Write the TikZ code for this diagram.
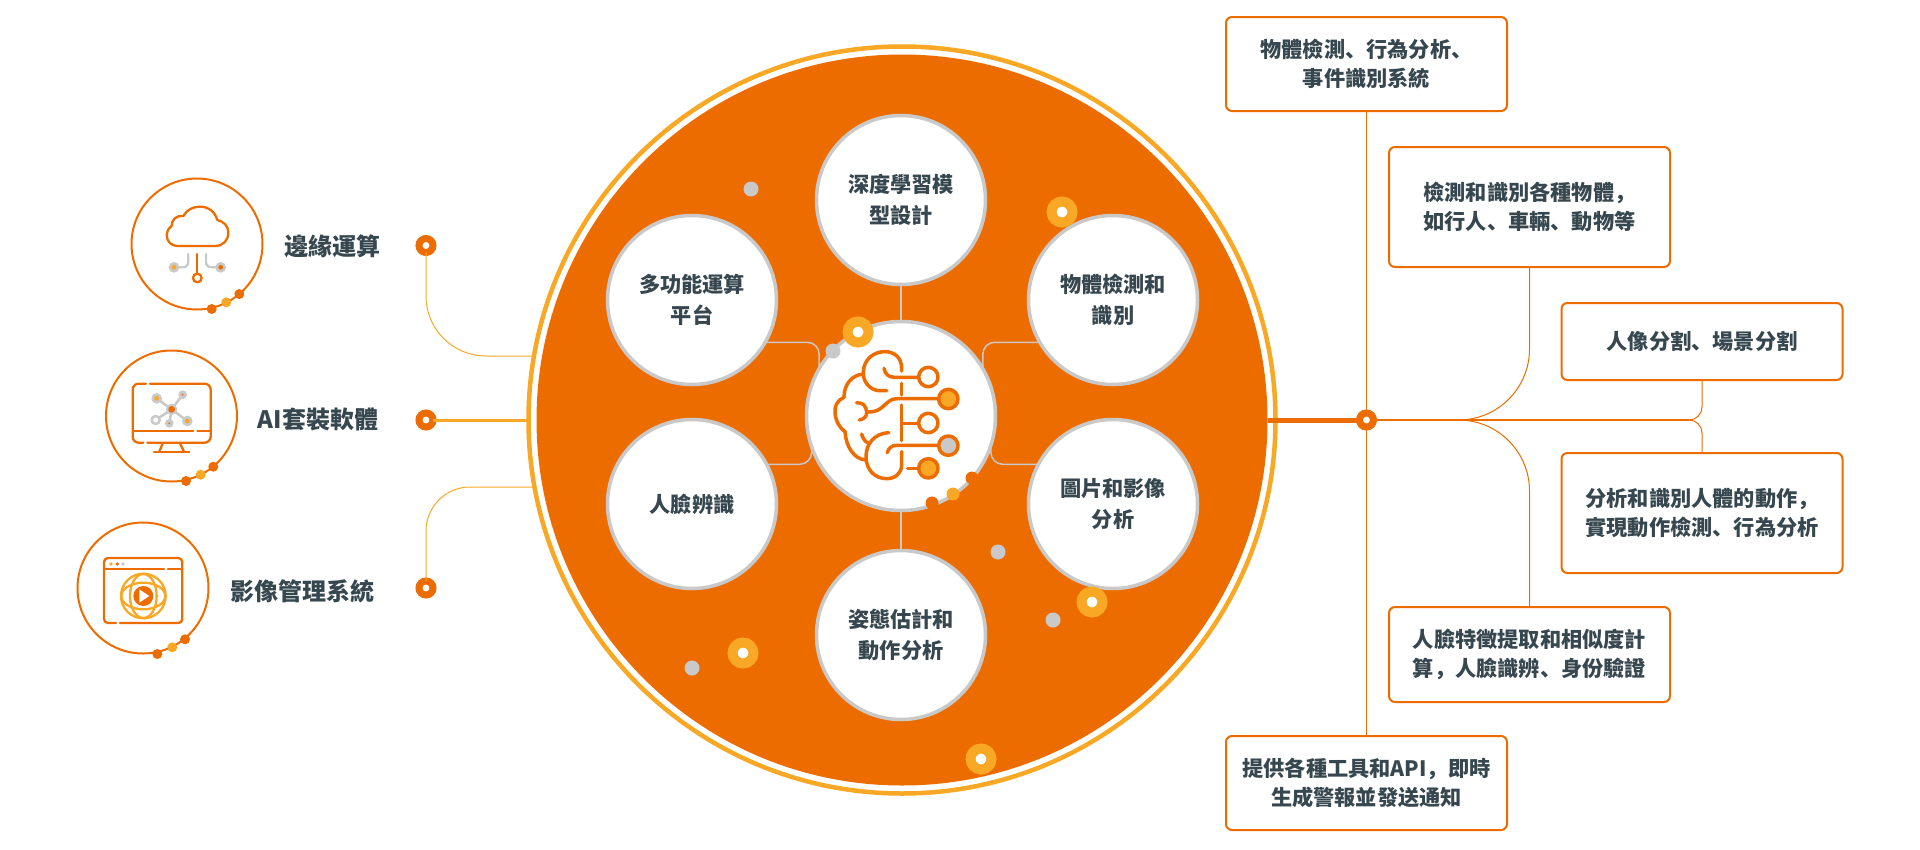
\documentclass[tikz,border=0pt]{standalone}
\usepackage{fontspec}
\setmainfont{Noto Sans CJK SC}
\definecolor{brandorange}{HTML}{EC6C00}
\definecolor{brandyellow}{HTML}{F9A825}
\definecolor{softgray}{HTML}{C9C9C9}
\definecolor{inkgray}{HTML}{37474F}
\begin{document}
\begin{tikzpicture}[
    x=1pt,
    y=-1pt,
    base/.style={font=\fontsize{21.2}{29}\selectfont\bfseries, text=inkgray, align=center},
    hub/.style={circle, draw=softgray, line width=3.5pt, fill=white, inner sep=0pt, outer sep=0pt, minimum size=169pt, base, font=\fontsize{21.2}{31}\selectfont\bfseries},
    infobox/.style={rectangle, draw=brandorange, line width=2pt, rounded corners=6pt, fill=white, inner sep=0pt, outer sep=0pt, base},
    sidelabel/.style={base, font=\fontsize{24}{30}\selectfont\bfseries},
    iconring/.style={circle, draw=brandorange, line width=2pt, inner sep=0pt, outer sep=0pt, minimum size=131pt},
    portdot/.style={circle, draw=brandorange, line width=7pt, fill=white, inner sep=0pt, outer sep=0pt, minimum size=14pt},
    grayspot/.style={circle, fill=softgray, inner sep=0pt, minimum size=15pt},
    ringspot/.style={circle, draw=brandyellow, line width=10pt, fill=white, inner sep=0pt, minimum size=21pt},
    orangebead/.style={circle, fill=brandorange, inner sep=0pt, minimum size=10pt},
    yellowbead/.style={circle, fill=brandyellow, inner sep=0pt, minimum size=10pt},
    spoke/.style={softgray, line width=1.5pt, rounded corners=12pt},
    feeder/.style={brandyellow, line width=1pt},
    branch/.style={brandorange, line width=1pt},
    icon/.style={brandorange, line width=2.3pt, line cap=round, line join=round},
    brainline/.style={brandorange, line width=3.5pt, line cap=round, line join=round}
]
\useasboundingbox (0,0) rectangle (1920,849);

% Main disc
\node[circle, fill=brandorange, inner sep=0pt, outer sep=0pt, minimum size=731pt] (disc) at (902,420) {};
\node[circle, draw=brandyellow, line width=4.5pt, inner sep=0pt, outer sep=0pt, minimum size=747pt] (ring) at (902,420) {};

% Circles on the disc
\node[hub, minimum size=189pt] (brain) at (901,416) {};
\node[hub] (design) at (901,200) {深度學習模\\型設計};
\node[hub] (platform) at (692,300) {多功能運算\\平台};
\node[hub] (detect) at (1113,300) {物體檢測和\\識別};
\node[hub] (face) at (692,504) {人臉辨識};
\node[hub] (picture) at (1113,504) {圖片和影像\\分析};
\node[hub] (pose) at (901,635) {姿態估計和\\動作分析};

\draw[spoke] (design.south) -- (brain.north);
\draw[spoke] (pose.north) -- (brain.south);
\draw[spoke] (platform.-30) -| (brain.150);
\draw[spoke] (detect.210) -| (brain.30);
\draw[spoke] (face.28) -| (brain.199);
\draw[spoke] (picture.152) -| (brain.-18);

% Spots
\node[grayspot] (spotA) at (751,189) {};
\node[grayspot] (spotB) at (833,351) {};
\node[grayspot] (spotC) at (998,552) {};
\node[grayspot] (spotD) at (1053,620) {};
\node[grayspot] (spotE) at (692,668) {};
\node[ringspot] (haloA) at (1062,212) {};
\node[ringspot] (haloB) at (858,332) {};
\node[ringspot] (haloC) at (1092,602) {};
\node[ringspot] (haloD) at (743,653) {};
\node[ringspot] (haloE) at (981,759) {};
\node[orangebead, minimum size=13pt] (beadA) at (932,503) {};
\node[yellowbead, minimum size=13pt] (beadB) at (953,494) {};
\node[orangebead, minimum size=13pt] (beadC) at (972,478) {};

% Brain
\begin{scope}[shift={(780,300)}, scale=1/3]
\draw[brainline] (320,272) -- (295,272) .. controls (268,268) and (248,245) .. (250,215) .. controls (252,178) and (280,155) .. (315,155) .. controls (345,155) and (365,175) .. (365,205) -- (365,213);
\draw[brainline] (250,222) .. controls (218,225) and (192,250) .. (192,292) .. controls (172,300) and (162,320) .. (165,340) .. controls (168,365) and (180,385) .. (195,395) .. controls (198,440) and (222,478) .. (258,480);
\draw[brainline] (326,398) .. controls (285,400) and (258,430) .. (258,470) .. controls (258,510) and (285,536) .. (320,536) .. controls (345,536) and (365,520) .. (365,495) -- (365,455);
\draw[brainline] (365,250) -- (365,285);
\draw[brainline] (365,315) -- (365,422);
\draw[brainline] (312,205) .. controls (315,222) and (325,232) .. (345,232) -- (415,232);
\draw[brainline] (230,308) .. controls (250,308) and (258,318) .. (260,335) .. controls (262,350) and (250,358) .. (238,360);
\draw[brainline] (260,335) .. controls (310,342) and (315,296) .. (350,296) -- (475,296);
\draw[brainline] (365,370) -- (415,370);
\draw[brainline] (322,458) .. controls (325,445) and (335,436) .. (350,436) -- (475,436);
\draw[brainline] (245,402) .. controls (248,415) and (255,425) .. (266,430);
\draw[brainline] (383,505) -- (415,505);
\draw[brainline, fill=white] (445,231) circle[radius=29];
\draw[brainline, fill=brandyellow] (505,297) circle[radius=29];
\draw[brainline, fill=white] (445,369) circle[radius=29];
\draw[brainline, fill=softgray] (505,437) circle[radius=29];
\draw[brainline, fill=brandyellow] (445,505) circle[radius=29];
\end{scope}

% Left column
\node[iconring] (cloudring) at (197,244) {};
\node[iconring] (screenring) at (171.5,416) {};
\node[iconring] (videoring) at (143,588) {};
\node[orangebead] (cloudA) at (211.7,309) {};
\node[yellowbead] (cloudB) at (226.3,302.3) {};
\node[orangebead] (cloudC) at (239.3,294) {};
\node[orangebead] (screenA) at (186,481) {};
\node[yellowbead] (screenB) at (200.7,474.7) {};
\node[orangebead] (screenC) at (213.3,466.7) {};
\node[orangebead] (videoA) at (157.3,654) {};
\node[yellowbead] (videoB) at (172.3,647.3) {};
\node[orangebead] (videoC) at (185,639.3) {};

\node[sidelabel] (edgelabel) at (332,246.5) {邊緣運算};
\node[sidelabel] (softlabel) at (318,419) {AI套裝軟體};
\node[sidelabel] (vmslabel) at (302,591) {影像管理系統};

\node[portdot] (edgeport) at (426,245.5) {};
\node[portdot] (softport) at (426,420) {};
\node[portdot] (vmsport) at (426,588) {};
\coordinate (edgejoin) at (533,356);
\coordinate (vmsjoin) at (533,487);

\draw[feeder, rounded corners=60pt] (edgeport.south) |- (edgejoin);
\draw[brandyellow, line width=3pt] (softport.east) -- (ring.west);
\draw[feeder, rounded corners=44pt] (vmsport.north) |- (vmsjoin);

% Cloud icon
\begin{scope}[shift={(60,160)}, scale=1/3]
\draw[icon] (352,258) -- (465,258) .. controls (490,258) and (505,240) .. (505,218) .. controls (505,198) and (492,185) .. (472,180) .. controls (465,155) and (445,140) .. (420,140) .. controls (398,140) and (380,150) .. (370,168) .. controls (350,165) and (335,178) .. (335,198) .. controls (325,205) and (320,215) .. (320,225) .. controls (320,245) and (335,258) .. (352,258) -- cycle;
\draw[icon] (412,282) -- (412,340);
\draw[icon] (412,354) circle[radius=13];
\draw[icon, softgray] (385,282) -- (385,305) .. controls (385,316) and (378,322) .. (368,322) -- (352,322);
\draw[icon, softgray] (438,282) -- (438,305) .. controls (438,316) and (445,322) .. (455,322) -- (472,322);
\fill[softgray] (342,322) circle[radius=16];
\fill[brandyellow] (342,322) circle[radius=7];
\fill[softgray] (482,322) circle[radius=16];
\fill[brandorange] (482,322) circle[radius=7];
\end{scope}

% Screen icon
\begin{scope}[shift={(60,160)}, scale=1/3]
\draw[icon, rounded corners=6pt] (258,671) -- (218,671) -- (218,848) -- (250,848);
\draw[icon, rounded corners=6pt] (270,671) -- (452,671) -- (452,848) -- (262,848);
\draw[icon] (220,813) -- (400,813);
\draw[icon] (412,813) -- (450,813);
\draw[icon] (308,850) -- (298,875);
\draw[icon] (360,850) -- (372,875);
\draw[icon] (282,876) -- (388,876);
\draw[softgray, line width=2.5pt] (335,748) -- (290,715);
\draw[softgray, line width=2.5pt] (335,748) -- (368,704);
\draw[softgray, line width=2.5pt] (335,748) -- (287,780);
\draw[softgray, line width=2.5pt] (335,748) -- (328,790);
\draw[softgray, line width=2.5pt] (335,748) -- (382,783);
\fill[softgray] (335,748) circle[radius=17];
\fill[brandorange] (335,748) circle[radius=10];
\fill[softgray] (290,715) circle[radius=16];
\fill[brandyellow] (290,715) circle[radius=7];
\fill[softgray] (368,704) circle[radius=13];
\fill[brandorange] (368,704) circle[radius=3];
\draw[softgray, line width=2.5pt, fill=white] (287,780) circle[radius=12];
\fill[softgray] (328,790) circle[radius=13];
\fill[brandorange] (328,790) circle[radius=3];
\fill[softgray] (382,783) circle[radius=16];
\fill[brandyellow] (382,783) circle[radius=7];
\end{scope}

% Video icon
\begin{scope}[shift={(60,480)}, scale=1/3]
\draw[icon, rounded corners=4pt] (168,429) -- (132,429) -- (132,234) -- (367,234) -- (367,429) -- (180,429);
\draw[icon] (134,268) -- (312,268);
\draw[icon] (324,268) -- (365,268);
\fill[brandyellow] (153,252) circle[radius=5.5];
\fill[brandorange] (172,252) circle[radius=5.5];
\fill[softgray] (189,252) circle[radius=5.5];
\draw[icon, brandyellow] (250,348) circle[radius=67];
\draw[icon, brandyellow] (250,348) ellipse[x radius=40, y radius=66];
\draw[icon, brandyellow] (250,348) ellipse[x radius=66, y radius=40];
\fill[brandorange] (250,348) circle[radius=30];
\fill[white] (238,328) -- (268,348) -- (238,368) -- cycle;
\end{scope}

% Info boxes
\node[infobox, minimum width=281pt, minimum height=94pt] (boxA) at (1366.5,64) {物體檢測、行為分析、\\事件識別系統};
\node[infobox, minimum width=281pt, minimum height=120pt] (boxB) at (1529.5,207) {檢測和識別各種物體，\\如行人、車輛、動物等};
\node[infobox, minimum width=281pt, minimum height=77pt] (boxC) at (1702,341.5) {人像分割、場景分割};
\node[infobox, minimum width=281pt, minimum height=120pt] (boxD) at (1702,513) {分析和識別人體的動作，\\實現動作檢測、行為分析};
\node[infobox, minimum width=281pt, minimum height=95pt] (boxE) at (1529.5,654.5) {人臉特徵提取和相似度計\\算，人臉識辨、身份驗證};
\node[infobox, minimum width=281pt, minimum height=94pt] (boxF) at (1366.5,783) {提供各種工具和API，即時\\生成警報並發送通知};

% Right connectors
\node[portdot] (trunkport) at (1366.5,420) {};
\coordinate (forkleft) at (1458,420);
\coordinate (forkright) at (1689,420);

\draw[brandorange, line width=1.5pt] (boxA.south) -- (trunkport.north);
\draw[brandorange, line width=1.5pt] (trunkport.south) -- (boxF.north);
\draw[brandorange, line width=5pt] (disc.east) -- (trunkport.west);
\draw[brandorange, line width=2.5pt] (trunkport.east) -- (forkleft);
\draw[brandorange, line width=1.5pt] (forkleft) -- (forkright);
\draw[branch, rounded corners=71pt] (boxB.south) |- (forkleft);
\draw[branch, rounded corners=71pt] (boxE.north) |- (forkleft);
\draw[branch, rounded corners=13pt] (boxC.south) |- (forkright);
\draw[branch, rounded corners=13pt] (boxD.north) |- (forkright);
\end{tikzpicture}
\end{document}
